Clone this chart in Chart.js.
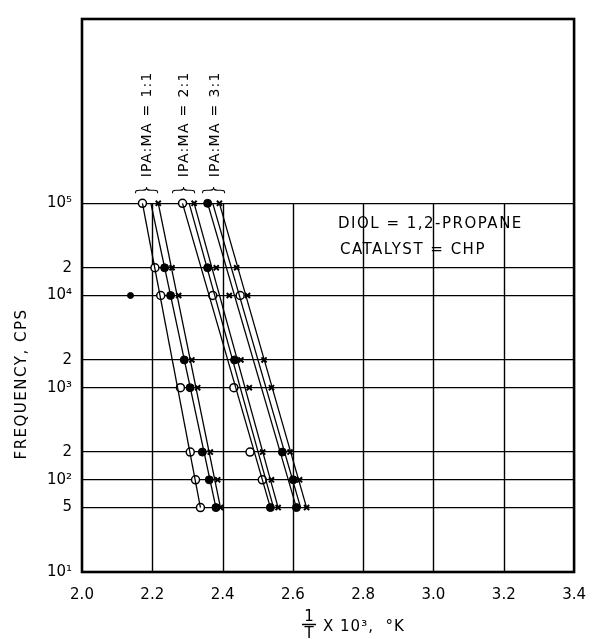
<!DOCTYPE html>
<html>
<head>
<meta charset="utf-8">
<script src="https://cdn.jsdelivr.net/npm/chart.js@4.4.0/dist/chart.umd.min.js"></script>
<style>
  html, body { margin: 0; padding: 0; background: #fff; }
</style>
</head>
<body>
<canvas id="freqChart" width="600" height="639"></canvas>
<script>
// Frequency rows (cps) at which the points were plotted
const freqRows = [1e5, 2e4, 1e4, 2e3, 1e3, 2e2, 1e2, 50];

// 1/T x 10^3 read for each row, null where no mark is visible
const ratio1Open   = [2.172, 2.2075, 2.224, null, 2.280, 2.308, 2.323, 2.337];
const ratio1Filled = [null, 2.235, 2.252, 2.291, 2.3075, 2.3425, 2.362, 2.381];
const ratio1Cross  = [2.217, 2.256, 2.275, 2.3125, 2.329, 2.365, 2.386, 2.394];

const ratio2Open   = [2.286, null, 2.372, null, 2.432, 2.478, 2.513, null];
const ratio2Filled = [null, 2.3575, null, 2.434, null, null, null, 2.536];
const ratio2Cross  = [2.319, 2.382, 2.419, 2.452, 2.476, 2.514, 2.539, 2.558];

const ratio3Open   = [null, null, 2.450, null, null, null, null, null];
const ratio3Filled = [2.3575, null, null, null, null, 2.570, 2.601, 2.610];
const ratio3Cross  = [2.391, 2.440, 2.471, 2.518, 2.539, 2.592, 2.619, 2.639];

// single stray filled point left of the 2.2 line
const strayX = [2.138];
const strayFreq = [1e4];

// Fitted lines: 1/T value at the top (1e5) and bottom (50 cps) of each line
const lineFreq = [1e5, 50];
const fitTop    = [2.172, 2.196, 2.217, 2.286, 2.305, 2.319, 2.3575, 2.372, 2.391];
const fitBottom = [2.337, 2.381, 2.394, 2.536, 2.545, 2.558, 2.610, 2.622, 2.639];

// Axes
const xTickValues = [2.0, 2.2, 2.4, 2.6, 2.8, 3.0, 3.2, 3.4];
const yTickValues = [10, 50, 100, 200, 1e3, 2e3, 1e4, 2e4, 1e5];
const yTickLabels = ['10\u00B9', '5', '10\u00B2', '2', '10\u00B3', '2', '10\u2074', '2', '10\u2075'];

// Group labels, placed above the top row at these 1/T values
const groupLabels = ['IPA:MA = 1:1', 'IPA:MA = 2:1', 'IPA:MA = 3:1'];
const groupLabelX = [2.186, 2.292, 2.378];

const FONT = '"DejaVu Sans", sans-serif';

// Turn a row array into scatter points, dropping the gaps
function toPoints(values) {
    const pts = [];
    values.forEach((v, i) => {
        if (v !== null) pts.push({ x: v, y: freqRows[i] });
    });
    return pts;
}

function markerSet(values, style) {
    const base = {
        data: toPoints(values),
        showLine: false,
        borderColor: '#000',
        pointHoverRadius: 0
    };
    if (style === 'open') {
        return Object.assign(base, { pointStyle: 'circle', pointRadius: 4, pointBorderWidth: 1.5, pointBackgroundColor: '#fff' });
    }
    if (style === 'filled') {
        return Object.assign(base, { pointStyle: 'circle', pointRadius: 4, pointBorderWidth: 1, pointBackgroundColor: '#000' });
    }
    return Object.assign(base, { pointStyle: 'crossRot', pointRadius: 3.6, pointBorderWidth: 2, pointBackgroundColor: '#000' });
}

const datasets = [];

// Fitted lines first so the marks sit on top
fitTop.forEach((top, i) => {
    datasets.push({
        data: [{ x: top, y: lineFreq[0] }, { x: fitBottom[i], y: lineFreq[1] }],
        showLine: true,
        borderColor: '#000',
        borderWidth: 1.3,
        pointRadius: 0,
        pointHoverRadius: 0
    });
});

datasets.push(markerSet(ratio1Open, 'open'));
datasets.push(markerSet(ratio1Filled, 'filled'));
datasets.push(markerSet(ratio1Cross, 'cross'));
datasets.push(markerSet(ratio2Open, 'open'));
datasets.push(markerSet(ratio2Filled, 'filled'));
datasets.push(markerSet(ratio2Cross, 'cross'));
datasets.push(markerSet(ratio3Open, 'open'));
datasets.push(markerSet(ratio3Filled, 'filled'));
datasets.push(markerSet(ratio3Cross, 'cross'));

const stray = markerSet(strayX, 'filled');
stray.data = strayX.map((v, i) => ({ x: v, y: strayFreq[i] }));
stray.pointRadius = 3;
datasets.push(stray);

// Vertical grid only runs from 10 to 1e5, plus frame and lettering
const framePlugin = {
    id: 'framePlugin',
    beforeDatasetsDraw(chart) {
        const { ctx, scales: { x, y } } = chart;
        const yTop = y.getPixelForValue(1e5);
        const yBot = y.getPixelForValue(10);
        ctx.save();
        ctx.strokeStyle = '#000';
        ctx.lineWidth = 1.4;
        xTickValues.slice(1, -1).forEach(v => {
            const px = Math.round(x.getPixelForValue(v)) + 0.5;
            ctx.beginPath();
            ctx.moveTo(px, yTop);
            ctx.lineTo(px, yBot);
            ctx.stroke();
        });
        ctx.restore();
    },
    afterDraw(chart) {
        const { ctx, chartArea: a, scales: { x, y } } = chart;
        ctx.save();

        // frame
        ctx.strokeStyle = '#000';
        ctx.lineWidth = 2.6;
        ctx.strokeRect(a.left, a.top, a.right - a.left, a.bottom - a.top);

        ctx.fillStyle = '#000';

        // notes in the plot
        ctx.font = '15px ' + FONT;
        ctx.letterSpacing = '1.5px';
        ctx.textAlign = 'left';
        ctx.textBaseline = 'middle';
        ctx.fillText('DIOL = 1,2-PROPANE', 338, 224);
        ctx.fillText('CATALYST = CHP', 340, 250);

        // rotated group labels with braces
        const yRow = y.getPixelForValue(1e5);
        groupLabels.forEach((label, i) => {
            const px = x.getPixelForValue(groupLabelX[i]);
            ctx.save();
            ctx.translate(px, yRow - 26);
            ctx.rotate(-Math.PI / 2);
            ctx.font = '14px ' + FONT;
            ctx.letterSpacing = '1.3px';
            ctx.textAlign = 'left';
            ctx.textBaseline = 'middle';
            ctx.fillText(label, 0, 0);
            ctx.restore();

            ctx.save();
            ctx.translate(px, yRow - 6);
            ctx.rotate(-Math.PI / 2);
            ctx.font = '200 24px ' + FONT;
            ctx.letterSpacing = '0px';
            ctx.textAlign = 'left';
            ctx.textBaseline = 'middle';
            ctx.fillText('}', 0, 0);
            ctx.restore();
        });

        // y axis title
        ctx.save();
        ctx.translate(22, 384);
        ctx.rotate(-Math.PI / 2);
        ctx.font = '15px ' + FONT;
        ctx.letterSpacing = '1.5px';
        ctx.textAlign = 'center';
        ctx.textBaseline = 'middle';
        ctx.fillText('FREQUENCY, CPS', 0, 0);
        ctx.restore();

        // x axis title: 1/T x 10^3, °K
        ctx.font = '15px ' + FONT;
        ctx.letterSpacing = '0px';
        ctx.textAlign = 'center';
        ctx.textBaseline = 'alphabetic';
        ctx.fillText('1', 309, 621);
        ctx.fillText('T', 309, 638);
        ctx.lineWidth = 1.5;
        ctx.beginPath();
        ctx.moveTo(302, 624.5);
        ctx.lineTo(316, 624.5);
        ctx.stroke();
        ctx.textAlign = 'left';
        ctx.letterSpacing = '1px';
        ctx.fillText('X 10\u00B3,  \u00B0K', 323, 631);

        ctx.restore();
    }
};

new Chart(document.getElementById('freqChart'), {
    type: 'scatter',
    data: { datasets: datasets },
    options: {
        responsive: false,
        animation: false,
        layout: { padding: { top: 14, right: 14, left: 0, bottom: 0 } },
        plugins: {
            legend: { display: false },
            tooltip: { enabled: false }
        },
        scales: {
            x: {
                type: 'linear',
                min: 2.0,
                max: 3.4,
                afterFit: scale => { scale.height = 67; },
                afterBuildTicks: scale => { scale.ticks = xTickValues.map(v => ({ value: v })); },
                grid: { display: false, drawTicks: false },
                border: { display: false },
                ticks: {
                    padding: 14,
                    color: '#000',
                    font: { family: FONT, size: 15 },
                    callback: v => v.toFixed(1)
                }
            },
            y: {
                type: 'logarithmic',
                min: 10,
                max: 1e7,
                afterFit: scale => { scale.width = 82; },
                afterBuildTicks: scale => { scale.ticks = yTickValues.map(v => ({ value: v })); },
                grid: { color: '#000', lineWidth: 1.3, drawTicks: false },
                border: { display: false },
                ticks: {
                    autoSkip: false,
                    padding: 10,
                    color: '#000',
                    font: { family: FONT, size: 15 },
                    callback: v => {
                        const i = yTickValues.indexOf(v);
                        return i >= 0 ? yTickLabels[i] : '';
                    }
                }
            }
        }
    },
    plugins: [framePlugin]
});
</script>
</body>
</html>
